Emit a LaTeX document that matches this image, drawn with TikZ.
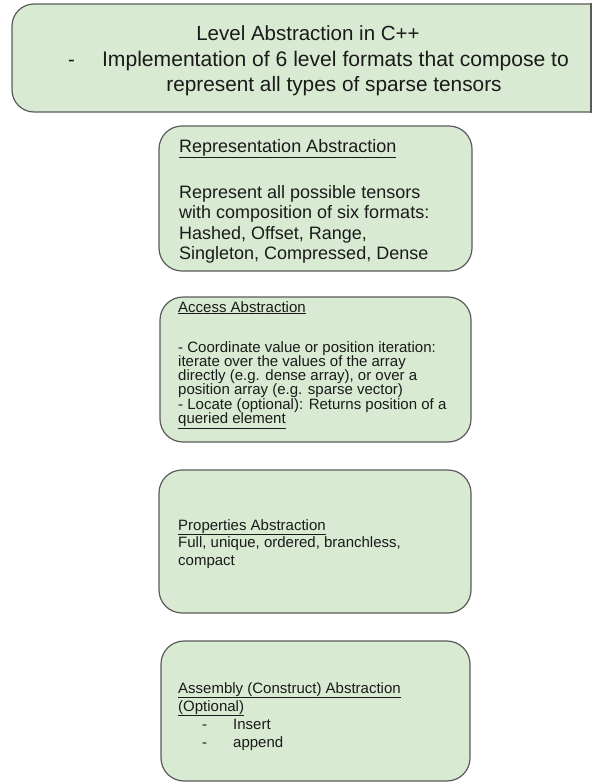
\documentclass[tikz,border=0pt]{standalone}
\usepackage{fontspec}
\setmainfont{Liberation Sans}
\definecolor{boxfill}{HTML}{D9EAD3}
\definecolor{boxline}{HTML}{5A5A5A}
\definecolor{txt}{HTML}{1A1A1A}
\begin{document}
\begin{tikzpicture}[x=1pt,y=-1pt,
  box/.style={draw=boxline, fill=boxfill, line width=1.2pt, rounded corners=23pt, inner sep=0pt},
  big/.style={inner sep=0pt, text=txt, font=\fontsize{20.5}{24}\selectfont},
  mid/.style={anchor=base west, inner sep=0pt, text=txt, font=\fontsize{18}{20}\selectfont},
  small/.style={anchor=base west, inner sep=0pt, text=txt, font=\fontsize{15}{17}\selectfont}]
\useasboundingbox (0,0) rectangle (593,782);
% top box
\begin{scope}
\clip (0,0) rectangle (591.6,782);
\node[box, rounded corners=22pt, minimum width=628pt, minimum height=108pt] (top) at (326,58) {};
\end{scope}
\draw[draw=boxline, line width=1.2pt] (top.north) ++(265,0) coordinate (tr) -- (tr |- top.south);
\node[big, anchor=base] (t1) at (308,40) {Level Abstraction in C++};
\node[big, anchor=base] (t2d) at (71.5,66.5) {-};
\node[big, anchor=base, font=\fontsize{21.1}{24}\selectfont] (t2) at (335.5,66.5) {Implementation of 6 level formats that compose to};
\node[big, anchor=base, font=\fontsize{20.8}{24}\selectfont] (t3) at (334,91.5) {represent all types of sparse tensors};
% representation box
\node[box, minimum width=313pt, minimum height=145pt] (rep) at (315.5,198.5) {};
\node[mid] (r0) at (179,152) {\underline{Representation Abstraction}};
\node[mid] (r1) at (179,198) {Represent all possible tensors};
\node[mid] (r2) at (179,218.5) {with composition of six formats:};
\node[mid] (r3) at (179,239) {Hashed, Offset, Range,};
\node[mid] (r4) at (179,259.5) {Singleton, Compressed, Dense};
% access box
\node[box, minimum width=311pt, minimum height=145pt] (acc) at (315.5,369.5) {};
\node[small] (a0) at (178,312) {\underline{Access Abstraction}};
\node[small] (a1) at (178,352) {- Coordinate value or position iteration:};
\node[small] (a2) at (178,366.3) {iterate over the values of the array};
\node[small] (a3) at (178,380.6) {directly (e.g. dense array), or over a};
\node[small] (a4) at (178,394.9) {position array (e.g. sparse vector)};
\node[small] (a5) at (178,409.2) {- Locate (optional): Returns position of a};
\node[small] (a6) at (178,423.5) {\underline{queried element}};
% properties box
\node[box, minimum width=312pt, minimum height=143pt] (prop) at (315,541.5) {};
\node[small] (p0) at (178,530) {\underline{Properties Abstraction}};
\node[small] (p1) at (178,547.5) {Full, unique, ordered, branchless,};
\node[small] (p2) at (178,565) {compact};
% assembly box
\node[box, minimum width=309pt, minimum height=140pt] (asm) at (315.5,711) {};
\node[small] (s0) at (178,693) {\underline{Assembly (Construct) Abstraction}};
\node[small] (s1) at (178,711) {\underline{(Optional)}};
\node[small] (s2d) at (202,729) {-};
\node[small] (s2) at (233,729) {Insert};
\node[small] (s3d) at (202,747) {-};
\node[small] (s3) at (233,747) {append};
\end{tikzpicture}
\end{document}
